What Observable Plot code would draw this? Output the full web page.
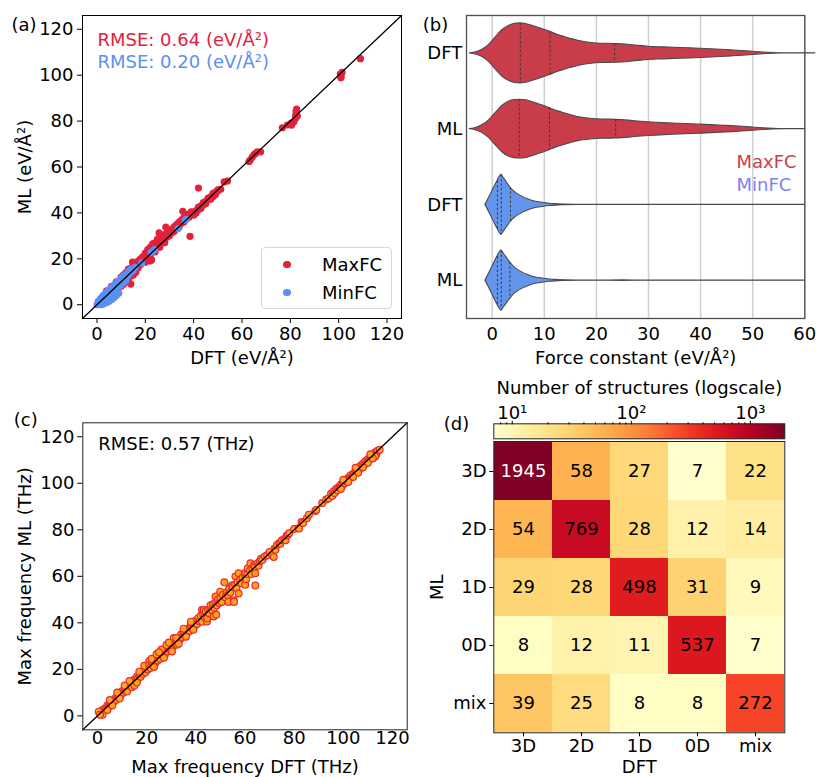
<!DOCTYPE html>
<html><head><meta charset="utf-8">
<script src="https://cdn.jsdelivr.net/npm/d3@7"></script>
<script src="https://cdn.jsdelivr.net/npm/@observablehq/plot@0.6"></script>
<style>
body{margin:0;background:#fff;}
#fig{position:relative;width:816px;height:777px;background:#fff;font-family:"DejaVu Sans";overflow:hidden;}
.lg{position:absolute;font-family:"DejaVu Sans";font-size:18px;line-height:18px;color:#000;white-space:nowrap;}
</style></head><body><div id="fig"></div>
<script>
// ---------------- data ----------------
const axisDomain = [-6, 126];
const ticks120 = [0, 20, 40, 60, 80, 100, 120];

// (a) force constants [DFT, ML]
const maxFC = [
[1,1.5],[2,1.5],[3,3.5],[4,3],[5,5.5],[6,5],[7,7.5],[8,7],[9,9.5],[10,9],[11,11.5],[12,11],[13,13.5],[14,13],[15,15.5],[16,15],[17,17.5],[18,17.5],
[5,3.5],[6,4.5],[7,5.5],[8,6.5],[9,7.5],[10,8],[11,9],[12,10],[13,11.5],[14,12.5],
[4,6],[6,8],[8,10],[10,12],[11,13],[12,14],[13,15.5],[14,16],[15,17],[16,18],[17,19],[18,20],[19,21],[20,22.5],[21,24],[22,25],[23,26.5],[24,27],[25,28.5],[26,29],[27,30],[28,30.5],
[19,19],[20,20],[21,21.5],[22,22],[23,23.5],[24,24],[25,25.5],[26,26],[27,27.5],[28,28],[29,29.5],[30,30],[31,31.5],[32,32],[33,33.5],[34,34],[35,35.5],[36,36],[37,37.5],[38,38],[39,39.5],[40,40],[41,41],[42,42.5],[43,43],[44,44.5],[45,45],[46,46.5],[47,47],[48,48.5],[49,49],[50,50],
[41,40],[43,42],[45,44],[47,46],[48,47],[44,43.5],[46,46],[49,48],[50,49.5],[42,41.5],[40,39],[51.2,50.3],
[36,38],[37,39],[38,39.5],[39,40.5],[34,36],[35,37],[33,35],[32,34],[31,33],[30,32],[29,31.5],
[20,18.5],[22,19],[21,19.5],[14,9],[13,10],[11,9],[15,13],[16,14],[17,16],[22,21],[24,23],[26,25],[28,27],
[42,50.8],[38.5,29.8],[35.5,40.7],[28.5,33.8],[25.7,31.3],[22.6,19.5],[14.7,18.6],[54.0,53.9],[52.6,53.5],
[62.9,62.4],[63.5,63.2],[64.3,64.4],[65,65.4],[65.6,65.9],[66.3,66.6],[67.7,66.6],
[76.7,77.1],[78.8,78.3],[80.2,79],[81,79.5],[81.5,79.7],[82.2,81.2],[82.9,82.2],[82.2,82.6],[82.6,85.2],[82.4,84.3],[80.5,78.2],
[100.7,100.5],[101,99.3],[101.4,101.2],[100.9,98.9],[109,107.2]
];
const minFC = [
[0,0],[0.5,0.5],[1,1],[1.5,1.2],[2,2],[2.5,2.2],[3,3],[3.5,3.2],[4,4],[4.5,4.3],[5,5],[5.5,5.2],[6,6],[6.5,6.2],[7,7],[7.5,7.3],[8,8],[8.5,8.4],[9,9],[9.5,9.6],[10,10],[10.5,10.3],[11,11],[11.5,11.6],[12,12],[12.5,12.4],[13,13],[14,14],[15,15],[15.8,16.3],
[1,0],[2,0.8],[3,1.5],[4,2.5],[5,3.5],[6,4.5],[7,5.5],[8,6.8],[9,7.8],[10,8.8],[11,9.7],[12,10.6],
[2,0],[3,0.5],[4,1],[5,1.5],[6,2.2],[7,3],[8,4],[9,5],
[0.5,1.5],[1.5,2.8],[2.5,4],[3.5,5],[4.5,6],[5.5,7],[6.5,8],[7.5,9],[8.5,10],[9.5,11],[10.5,12],[11.5,13],[13,14.5],[14,15.5],
[18.5,18.2],[22.4,22.8],[23.3,23.5],[23.8,24],[33.6,33.2],[36.5,36.8],[37,37.2]
];
const rmseMax = "RMSE: 0.64 (eV/Å²)";
const rmseMin = "RMSE: 0.20 (eV/Å²)";

// (b) violin profiles [force constant, relative density]
const fcTicks = [0, 10, 20, 30, 40, 50, 60];
const violinRowLabels = ["DFT", "ML", "DFT", "ML"];
const violinMaxDFT = [[-4.3,0],[-3.5,0.02],[-2.5,0.07],[-1.5,0.16],[-0.5,0.3],[0,0.4],[1,0.6],[2,0.78],[3,0.9],[4,0.97],[5.4,1.0],[6.5,0.98],[7.5,0.93],[8.6,0.87],[10,0.79],[11.1,0.72],[12.5,0.62],[14,0.54],[15,0.49],[16.5,0.42],[18,0.37],[20,0.33],[22,0.32],[23.5,0.31],[25,0.3],[27,0.27],[30,0.22],[33,0.2],[36,0.18],[40,0.155],[43,0.13],[46,0.1],[48,0.08],[50,0.055],[52,0.03],[54,0.012],[56,0.004],[58,0.002],[62,0.002]];
const violinMaxML = [[-4.3,0],[-3.5,0.02],[-2.5,0.08],[-1.5,0.17],[-0.5,0.31],[0,0.41],[1,0.6],[2,0.78],[3,0.9],[4,0.96],[5.2,0.98],[6.5,0.96],[7.5,0.91],[8.6,0.85],[10,0.77],[11,0.7],[12.5,0.6],[14,0.52],[15,0.47],[16.5,0.4],[18,0.36],[20,0.33],[22,0.32],[23.7,0.31],[25,0.3],[27,0.27],[30,0.23],[33,0.2],[36,0.18],[40,0.15],[43,0.125],[46,0.1],[48,0.08],[50,0.055],[52,0.03],[54,0.012],[56,0.004],[60,0.002]];
const violinMinDFT = [[-1.3,0],[-0.5,0.27],[0,0.45],[0.5,0.62],[1,0.79],[1.4,0.92],[1.75,1.0],[2.2,0.9],[2.7,0.78],[3,0.7],[3.5,0.58],[4,0.48],[4.5,0.41],[5,0.35],[5.5,0.3],[6,0.25],[7,0.18],[8,0.12],[9,0.085],[10,0.06],[11,0.04],[12,0.025],[14,0.012],[17,0.006],[20,0.004],[25,0.006],[30,0.003],[60,0.002]];
const violinMinML = [[-1.3,0],[-0.5,0.27],[0,0.45],[0.5,0.63],[1,0.8],[1.4,0.93],[1.75,1.0],[2.2,0.9],[2.7,0.79],[3,0.71],[3.5,0.59],[4,0.49],[4.5,0.41],[5,0.35],[5.5,0.3],[6,0.25],[7,0.18],[8,0.12],[9,0.085],[10,0.06],[11,0.04],[12,0.025],[14,0.012],[17,0.006],[20,0.004],[25,0.007],[30,0.003],[60,0.002]];
// quartiles [value, relative density there]
const quartMaxDFT = [[5.4,1.0],[11.1,0.72],[23.5,0.31]];
const quartMaxML = [[5.2,0.98],[11.0,0.7],[23.7,0.31]];
const quartMinDFT = [[1.0,0.79],[1.75,1.0],[3.5,0.58]];
const quartMinML = [[1.0,0.8],[1.75,1.0],[3.4,0.61]];

// (c) max frequency [DFT, ML]
const maxFreq = [
[1,1.5],[1.5,1],[2,2.5],[2.5,2],[3,3.2],[3.5,2.8],[4,4.5],[4.5,4],[5,5.3],[5.5,4.8],[6,6.4],[6.5,6],[7,7.3],[7.5,6.8],[8,8.6],[8.5,8],[9,9.4],[9.5,9],[10,10.6],[10.5,10],[11,11.5],[11.5,10.8],[12,12.6],[12.5,12],[13,13.4],[13.5,12.9],[14,14.7],[14.5,13.8],[15,15.6],[15.5,14.6],[16,16.8],[16.5,15.9],[17,17.5],[17.5,16.8],[18,18.9],[18.5,18],[19,19.6],[19.5,18.7],[20,20.8],[20.5,19.9],
[2,0.5],[4,2.5],[6,4.5],[9,7.5],[12,10.5],[14,12.3],[15,13],[16,14.3],[5,6.8],[8,10],[11,13],[13,15],[17,19],[19,21.5],[21,23.5],[0.5,1.8],[1,0.5],
[21,21.8],[21.5,20.6],[22,22.9],[22.5,21.8],[23,23.5],[23.5,22.6],[24,25],[24.5,23.8],[25,25.7],[25.5,24.6],[26,26.9],[26.5,25.8],[27,27.6],[27.5,26.5],[28,28.9],[28.5,27.8],[29,29.5],[29.5,28.6],[30,31],[30.5,29.7],[31,31.8],[31.5,30.8],[32,32.9],[32.5,31.6],[33,33.6],[33.5,32.8],[34,35],[34.5,33.8],[35,35.7],[35.5,34.6],[36,37],[36.5,35.8],[37,37.6],[37.5,36.5],[38,38.9],[38.5,37.8],[39,39.5],[39.5,38.6],[40,41],
[22,24.5],[24,26.5],[26,28.5],[28,30.5],[30.3,27.7],[32.3,30.6],[31,33.5],[33,31],[35,37.5],[36,34],[38,40.5],[39,37],[23,21],[27,25],[25,27.3],[29,31.5],[32,33.5],
[40.5,39.5],[41,42],[41.5,40.7],[42,43],[42.5,45.5],[42.6,40.5],[43,43.5],[43.2,45.5],[43.5,42.5],[44,45],[44.5,40.6],[44.6,41.9],[45,45.5],[45.5,44],[45.9,46.3],[46,47.5],[46.5,45.5],[47,48],[47.3,42.7],[47.5,46.5],[48,48.5],[48,51.3],[48.3,43.5],[48.5,47.5],[49,50],[49.5,48.5],[49.9,53.4],[50,50.5],[50.5,49],[51,52],[51.6,57.4],[52,51],[52.5,53],[53,52],[53.3,49],[53.5,54.5],[54,53],[54.7,56.2],[55,55.5],[55.4,49.7],[55.5,49],[56,56.5],[56.1,59.9],[56.5,55],[57,57.5],[57.4,61.3],[57.4,52.6],[58,58.5],[58.5,57],[59,59.5],[60,60.5],[60.1,61.4],[60.1,56.4],[60.5,58.7],[61,61],[61.1,63.4],[62,62.5],[62.2,65.6],[62.5,61],[63,63.5],[63.6,64.6],[64,64],[64.2,61.3],[64.2,56],[65,65.5],[65.5,64.5],[66,66.5],[66.5,67.5],[67,67],
[68,68.5],[69,69],[70,70.5],[71,69.2],[71.7,68.3],[72,72],[72.4,71.4],[73,73.5],[74,74.3],[74.4,74],[75,75.5],[76,76],[76.5,75.5],[77,77.5],[77.4,77.8],[78,78.5],[80,80.3],[81.8,80.7],[82,80.5],[83,83.3],[83.6,82.9],[85.2,85],[86,86.5],[88.6,88.1],[89,88.5],[91.4,91.5],[93,93],[94,93.5],[95,95.5],[95.5,94.5],
[96,96.5],[96.5,95.8],[97,97.5],[97.5,97],[98,98.3],[98.5,98.2],[99,99.5],[99.5,98.8],[100,100.2],[100.5,100],[101,101.5],[101.5,100.8],[102,102.3],[102.5,101.9],[103,103.5],[103.5,102.8],[104,104],[104.5,104.3],[105,105.5],[105.5,104.7],[106,106.2],[106.5,106],[107,107.5],[107.5,106.8],[108,108.4],[108.5,108],[109,109.5],[109.5,108.7],[110,110.3],[110.5,110],[111,111.3],[111.5,110.8],[112,112.3],[112.5,112],[113,113.3],[113.5,112.6],[114,114],[114.8,114.4],[113,111.5],[110,108.8],[106,104.5],[104,102.7],[108,106.9],[112,110.7],[102,100.5],[99,97.5],[100,101.5],[105,106.7],[111,112.5]
];
const rmseFreq = "RMSE: 0.57 (THz)";

// (d) confusion matrix: rows ML, columns DFT
const dims = ["3D", "2D", "1D", "0D", "mix"];
const confusion = [
  [1945, 58, 27, 7, 22],
  [54, 769, 28, 12, 14],
  [29, 28, 498, 31, 9],
  [8, 12, 11, 537, 7],
  [39, 25, 8, 8, 272]
];
const colorDomain = [7, 1945];
const cbarTicks = [10, 100, 1000];
const cbarTickLabels = ["10¹", "10²", "10³"];
const cbarMinor = [8, 9, 20, 30, 40, 50, 60, 70, 80, 90, 200, 300, 400, 500, 600, 700, 800, 900];

// ---------------- drawing ----------------
const fig = document.getElementById("fig");
const red = "#e3213a", blue = "#5a8ff5";
const vRed = "#c93c49", vBlue = "#6495ed";
const baseStyle = {fontFamily: "DejaVu Sans", fontSize: "18px", color: "black", background: "transparent", overflow: "visible"};
function place(el, left, top) {
  el.style.position = "absolute"; el.style.left = left + "px"; el.style.top = top + "px";
  fig.appendChild(el);
}

// (a)
place(Plot.plot({
  width: 410, height: 380, marginLeft: 82, marginRight: 9, marginTop: 15, marginBottom: 62,
  x: {domain: axisDomain}, y: {domain: axisDomain}, style: baseStyle,
  marks: [
    Plot.dot(maxFC, {x: d => d[0], y: d => d[1], r: 3.6, fill: red}),
    Plot.dot(minFC, {x: d => d[0], y: d => d[1], r: 3.6, fill: blue}),
    Plot.line(axisDomain, {x: d => d, y: d => d, stroke: "black", strokeWidth: 1.3}),
    Plot.frame({stroke: "black"}),
    Plot.axisX({ticks: ticks120, tickSize: 5, tickPadding: 3.5, label: null}),
    Plot.axisY({ticks: ticks120, tickSize: 5, tickPadding: 4, label: null}),
    Plot.text(["DFT (eV/Å²)"], {frameAnchor: "bottom", dy: 40, textAnchor: "middle", lineAnchor: "middle"}),
    Plot.text(["ML (eV/Å²)"], {frameAnchor: "left", dx: -57, rotate: -90, textAnchor: "middle", lineAnchor: "middle"}),
    Plot.text(["(a)"], {frameAnchor: "top-left", dx: -71, dy: 10, textAnchor: "start", lineAnchor: "middle"}),
    Plot.text([rmseMax], {frameAnchor: "top-left", dx: 15, dy: 24.5, textAnchor: "start", lineAnchor: "middle", fill: red}),
    Plot.text([rmseMin], {frameAnchor: "top-left", dx: 15, dy: 47, textAnchor: "start", lineAnchor: "middle", fill: blue})
  ]
}), 0, 0);

// legend (a)
{
  const box = document.createElement("div");
  box.style.cssText = "position:absolute;left:260.5px;top:247px;width:131px;height:61.5px;border:1px solid #d8d8d8;border-radius:4px;background:rgba(255,255,255,0.85);box-sizing:border-box;";
  fig.appendChild(box);
  [["MaxFC", red, 264.3], ["MinFC", blue, 292.3]].forEach(([t, c, y]) => {
    const dot = document.createElement("div");
    dot.style.cssText = `position:absolute;left:${287 - 3.6}px;top:${y - 3.6}px;width:7.2px;height:7.2px;border-radius:50%;background:${c};`;
    fig.appendChild(dot);
    const tx = document.createElement("div");
    tx.className = "lg"; tx.textContent = t;
    tx.style.left = "322px"; tx.style.top = (y - 8.7) + "px";
    fig.appendChild(tx);
  });
}

// (b)
const halfMax = 0.396;
function violinRows(profile, row) { return profile.map(([x, d]) => ({x, y1: row - d * halfMax, y2: row + d * halfMax})); }
const violins = [[violinMaxDFT, quartMaxDFT, 0, vRed], [violinMaxML, quartMaxML, 1, vRed], [violinMinDFT, quartMinDFT, 2, vBlue], [violinMinML, quartMinML, 3, vBlue]];
place(Plot.plot({
  width: 406, height: 380, marginLeft: 56, marginRight: 11.7, marginTop: 15, marginBottom: 62,
  x: {domain: [-4.93, 60]}, y: {domain: [3.5, -0.5]}, style: baseStyle,
  marks: [
    Plot.gridX({ticks: fcTicks, stroke: "#cfcfcf", strokeOpacity: 1, strokeWidth: 1.5}),
    ...violins.flatMap(([prof, quart, row, col]) => [
      Plot.areaY(violinRows(prof, row), {x: "x", y1: "y1", y2: "y2", fill: col, stroke: "#4a4a4a", strokeWidth: 1.1, curve: "monotone-x"}),
      Plot.ruleX(violinRows(quart, row), {x: "x", y1: "y1", y2: "y2", stroke: "#3a3a3a", strokeWidth: 1, strokeDasharray: "2.5,2"})
    ]),
    Plot.frame({stroke: "#4d4d4d", strokeWidth: 1.3}),
    Plot.axisX({ticks: fcTicks, tickSize: 0, tickPadding: 8.5, label: null}),
    Plot.axisY({ticks: [0, 1, 2, 3], tickFormat: (d) => violinRowLabels[d], tickSize: 0, tickPadding: 4.3, label: null}),
    Plot.text(["Force constant (eV/Å²)"], {frameAnchor: "bottom", dy: 40, textAnchor: "middle", lineAnchor: "middle"}),
    Plot.text(["(b)"], {frameAnchor: "top-left", dx: -43.7, dy: 10, textAnchor: "start", lineAnchor: "middle"}),
    Plot.text(["MaxFC"], {frameAnchor: "top-right", dx: -68.3, dy: 147, textAnchor: "start", lineAnchor: "middle", fill: "#cf3c4b"}),
    Plot.text(["MinFC"], {frameAnchor: "top-right", dx: -68.3, dy: 170, textAnchor: "start", lineAnchor: "middle", fill: "#7d80fa"})
  ]
}), 410, 0);

// (c)
place(Plot.plot({
  width: 410, height: 397, marginLeft: 82.3, marginRight: 3.3, marginTop: 42.3, marginBottom: 47.7,
  x: {domain: axisDomain}, y: {domain: axisDomain}, style: baseStyle,
  marks: [
    Plot.dot(maxFreq, {x: d => d[0], y: d => d[1], r: 3.4, fill: "#ffa41c", stroke: "#ea2a2a", strokeWidth: 1.2}),
    Plot.line(axisDomain, {x: d => d, y: d => d, stroke: "black", strokeWidth: 1.3}),
    Plot.frame({stroke: "#222"}),
    Plot.axisX({ticks: ticks120, tickSize: 0, tickPadding: 1.5, label: null}),
    Plot.axisY({ticks: ticks120, tickSize: 5, tickPadding: 3.3, label: null}),
    Plot.text(["Max frequency DFT (THz)"], {frameAnchor: "bottom", dy: 37.4, textAnchor: "middle", lineAnchor: "middle"}),
    Plot.text(["Max frequency ML (THz)"], {frameAnchor: "left", dx: -57.3, rotate: -90, textAnchor: "middle", lineAnchor: "middle"}),
    Plot.text(["(c)"], {frameAnchor: "top-left", dx: -69, dy: -3, textAnchor: "start", lineAnchor: "middle"}),
    Plot.text([rmseFreq], {frameAnchor: "top-left", dx: 15.4, dy: 21, textAnchor: "start", lineAnchor: "middle"})
  ]
}), 0, 380);

// (d)
const cells = confusion.flatMap((row, i) => row.map((n, j) => ({ml: dims[i], dft: dims[j], n})));
place(Plot.plot({
  width: 406, height: 407, marginLeft: 83.3, marginRight: 31.7, marginTop: 71, marginBottom: 44.7,
  x: {domain: dims, padding: 0}, y: {domain: dims, padding: 0},
  color: {type: "log", scheme: "YlOrRd", domain: colorDomain},
  style: baseStyle,
  marks: [
    Plot.cell(cells, {x: "dft", y: "ml", fill: "n", inset: 0}),
    Plot.text(cells, {x: "dft", y: "ml", text: d => String(d.n), fill: "black", filter: d => d.n < 1000}),
    Plot.text(cells, {x: "dft", y: "ml", text: d => String(d.n), fill: "white", filter: d => d.n >= 1000}),
    Plot.frame({stroke: "#222"}),
    Plot.axisX({tickSize: 4, tickPadding: 2, label: null}),
    Plot.axisY({tickSize: 4, tickPadding: 3.3, label: null}),
    Plot.text(["DFT"], {frameAnchor: "bottom", dy: 34.2, textAnchor: "middle", lineAnchor: "middle"}),
    Plot.text(["ML"], {frameAnchor: "left", dx: -56.6, rotate: -90, textAnchor: "middle", lineAnchor: "middle"}),
    Plot.text(["(d)"], {frameAnchor: "top-left", dx: -50, dy: -17, textAnchor: "start", lineAnchor: "middle"})
  ]
}), 410, 370);

// colorbar (d)
const cbExp = colorDomain.map(Math.log10);
place(Plot.plot({
  width: 406, height: 70, marginLeft: 83.3, marginRight: 31.7, marginTop: 53.3, marginBottom: 1.7,
  x: {domain: cbExp}, y: {domain: [0, 1], axis: null},
  color: {type: "log", scheme: "YlOrRd", domain: colorDomain},
  style: baseStyle,
  marks: [
    Plot.raster({fill: (x, y) => 10 ** x, x1: cbExp[0], x2: cbExp[1], y1: 0, y2: 1}),
    Plot.frame({stroke: "#222"}),
    Plot.axisX({anchor: "top", ticks: cbarTicks.map(Math.log10), tickFormat: (d, i) => cbarTickLabels[i], tickSize: 3.5, tickPadding: 1.5, label: null}),
    Plot.axisX({anchor: "top", ticks: cbarMinor.map(Math.log10), tickFormat: () => "", tickSize: 2, label: null}),
    Plot.text(["Number of structures (logscale)"], {frameAnchor: "top", dy: -36, textAnchor: "middle", lineAnchor: "middle"})
  ]
}), 410, 370);
</script></body></html>
